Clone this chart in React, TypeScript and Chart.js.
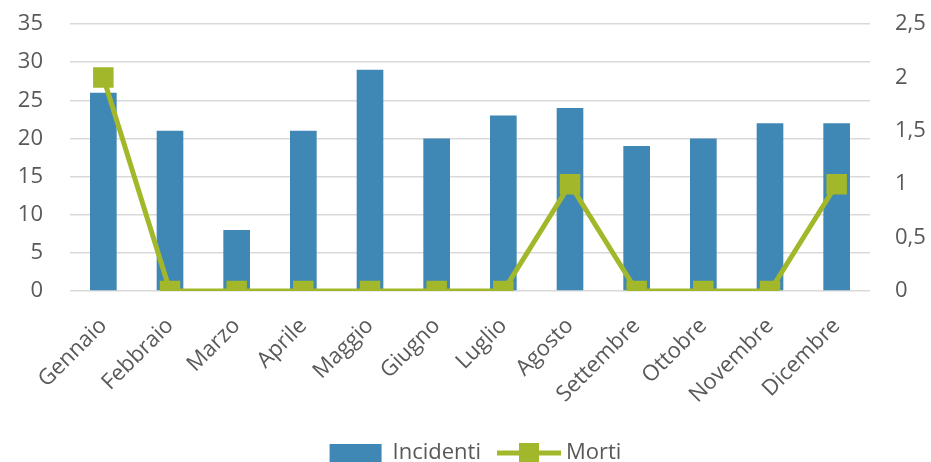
import React, { useEffect, useRef } from "react";
import { Chart, registerables } from "chart.js";

Chart.register(...registerables);

const categories = ["Gennaio", "Febbraio", "Marzo", "Aprile", "Maggio", "Giugno", "Luglio", "Agosto", "Settembre", "Ottobre", "Novembre", "Dicembre"];
const incidenti = [26, 21, 8, 21, 29, 20, 23, 24, 19, 20, 22, 22];
const morti = [2, 0, 0, 0, 0, 0, 0, 1, 0, 0, 0, 1];

const BLUE = "#3F87B4";
const GREEN = "#A2B82A";
const TEXT = "#595959";
const FONT = "'Open Sans', 'Noto Sans', sans-serif";
const FS = 22;
const LEGEND_PAD = 22;

const legendShift = {
  id: "legendShift",
  afterLayout(chart: any) {
    const lg = chart.legend;
    if (!lg) return;
    const center = lg.top + LEGEND_PAD + FS / 2;
    const d = 453 - center;
    lg.top += d;
    lg.bottom += d;
    lg.left += 10;
    lg.right += 10;
  },
};

const legendMarker = {
  id: "legendMarker",
  afterDraw(chart: any) {
    const legend = chart.legend;
    if (!legend || !legend.legendHitBoxes) return;
    const box = legend.legendHitBoxes[1];
    if (!box) return;
    const ctx = chart.ctx;
    const bw = legend.options.labels.boxWidth;
    const bh = legend.options.labels.boxHeight;
    const x = box.left;
    const cy = box.top + box.height / 2;
    ctx.save();
    ctx.fillStyle = "#ffffff";
    ctx.fillRect(x - 4, cy - bh / 2 - 4, bw + 8, bh + 8);
    ctx.strokeStyle = GREEN;
    ctx.lineWidth = 5;
    ctx.beginPath();
    ctx.moveTo(x - 6, cy);
    ctx.lineTo(x + bw + 6, cy);
    ctx.stroke();
    ctx.fillStyle = GREEN;
    ctx.fillRect(x + bw / 2 - 10, cy - 10, 20, 20);
    ctx.restore();
  },
};

export default function App() {
  const ref = useRef<HTMLCanvasElement>(null);
  useEffect(() => {
    if (!ref.current) return;
    const chart = new Chart(ref.current, {
      data: {
        labels: categories,
        datasets: [
          {
            type: "line",
            label: "Morti",
            data: morti,
            yAxisID: "y1",
            borderColor: GREEN,
            backgroundColor: GREEN,
            borderWidth: 5,
            pointStyle: "rect",
            pointRadius: 14.5,
            pointBackgroundColor: GREEN,
            pointBorderWidth: 0,
            tension: 0,
            order: 1,
          },
          {
            type: "bar",
            label: "Incidenti",
            data: incidenti,
            yAxisID: "y",
            backgroundColor: BLUE,
            categoryPercentage: 1,
            barPercentage: 0.4,
            order: 2,
          },
        ],
      } as any,
      options: {
        animation: false,
        responsive: false,
        maintainAspectRatio: false,
        layout: { padding: 0 },
        scales: {
          x: {
            grid: { display: false },
            border: { display: false },
            ticks: { color: TEXT, font: { family: FONT, size: FS }, maxRotation: 45, minRotation: 45, padding: 14 },
            afterFit: (s: any) => {
              s.paddingLeft = 0;
              s.paddingRight = 0;
              const lh = s.chart.legend ? s.chart.legend.height : 0;
              s.height = 462 - lh - 291;
            },
          },
          y: {
            position: "left",
            min: 0,
            max: 35,
            ticks: { stepSize: 5, color: TEXT, font: { family: FONT, size: FS }, padding: 27 },
            grid: { color: "#D9D9D9", lineWidth: 1.5, drawTicks: false },
            border: { display: false },
            afterFit: (s: any) => {
              s.width = 70;
              s.paddingTop = 24;
              s.paddingBottom = 0;
            },
          },
          y1: {
            position: "right",
            min: 0,
            max: 2.5,
            ticks: {
              stepSize: 0.5,
              color: TEXT,
              font: { family: FONT, size: FS },
              padding: 25,
              callback: (v: any) => String(v).replace(".", ","),
            },
            grid: { display: false, drawTicks: false },
            border: { display: false },
            afterFit: (s: any) => {
              s.width = 61;
              s.paddingTop = 24;
              s.paddingBottom = 0;
            },
          },
        },
        plugins: {
          legend: {
            position: "bottom",
            reverse: true,
            labels: {
              color: TEXT,
              font: { family: FONT, size: FS },
              boxWidth: 52,
              boxHeight: 18,
              padding: LEGEND_PAD,
            },
          },
          tooltip: { enabled: false },
        },
      } as any,
      plugins: [legendShift, legendMarker],
    });
    return () => chart.destroy();
  }, []);
  return (
    <div style={{ position: "absolute", left: 0, top: 0, width: 931, height: 462 }}>
      <canvas ref={ref} width={931} height={462} style={{ width: 931, height: 462 }} />
    </div>
  );
}
